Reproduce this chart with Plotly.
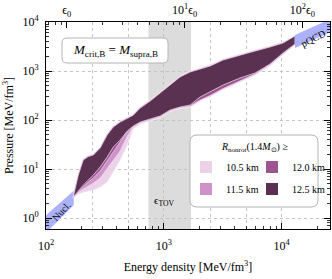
import math
import plotly.graph_objects as go

# ---------------- data ----------------
EPS0 = 150.0  # MeV/fm^3, saturation energy density (top axis unit)

EPS = [170, 188, 207, 228, 252, 288, 330, 372, 426, 489, 550, 630, 765, 930,
       1130, 1370, 1670, 2030, 2470, 3180, 4430, 5940, 7960, 10260, 12960]

# R >= 12.5 km (darkest)
P_UP_125 = [2.68, 7.55, 15.3, 18.0, 19.3, 26.8, 49.4, 72.0, 91.0, 110, 126, 176, 244, 356,
            518, 755, 954, 1100, 1265, 1677, 2121, 2560, 3090, 3728, 5180]
P_LO_125 = [2.68, 3.56, 4.72, 5.97, 7.55, 11.0, 17.6, 28.1, 39.1, 59.7, 75.4, 91.0, 105, 121,
            160, 184, 202, 295, 373, 518, 720, 910, 1390, 2330, 3556]
# R >= 12.0 km
P_LO_120 = [2.62, 3.39, 4.29, 5.43, 6.55, 9.10, 13.9, 22.2, 35.6, 56.9, 73.7, 88.9, 102, 118,
            156, 180, 193, 256, 316, 439, 625, 869, 1357, 2276, 3556]
# R >= 11.5 km
P_LO_115 = [2.56, 3.39, 3.91, 4.50, 5.18, 6.55, 10.0, 15.3, 23.3, 47.2, 72.0, 86.9, 100, 115,
            153, 176, 189, 250, 309, 429, 611, 848, 1326, 2223, 3473]
# R >= 10.5 km (lightest, widest)
P_UP_105 = [2.68, 7.91, 16.0, 18.9, 20.2, 28.1, 51.8, 75.4, 95.4, 115, 133, 184, 256, 373,
            543, 791, 1000, 1152, 1326, 1757, 2223, 2683, 3238, 3907, 5180]
P_LO_105 = [2.56, 3.09, 3.39, 3.56, 3.73, 4.29, 5.43, 8.69, 15.3, 30.9, 65.5, 82.9, 97.7, 112,
            149, 172, 184, 244, 302, 419, 597, 829, 1295, 2172, 3393]

# nuclear (low density) and pQCD (high density) bands
NUCL_EPS = [100, 172]
NUCL_LO = [0.5, 1.85]
NUCL_UP = [1.15, 3.6]
PQCD_EPS = [12960, 27000]
PQCD_LO = [2950, 6500]
PQCD_UP = [5430, 12000]

# TOV energy-density band
TOV_RANGE = [740, 1700]

BAND_LABELS = ["10.5 km", "11.5 km", "12.0 km", "12.5 km"]
BAND_COLORS = ["#ecd2e8", "#cf92c8", "#9d5491", "#5b3152"]
BAND_LEGEND = ["legend", "legend", "legend2", "legend2"]

X_RANGE = [100, 25700]
Y_RANGE = [0.6, 10000]
X_TICKS = [100, 1000, 10000]
X_TICKTEXT = ["10<sup>2</sup>", "10<sup>3</sup>", "10<sup>4</sup>"]
Y_TICKS = [1, 10, 100, 1000, 10000]
Y_TICKTEXT = ["10<sup>0</sup>", "10<sup>1</sup>", "10<sup>2</sup>", "10<sup>3</sup>", "10<sup>4</sup>"]
TOP_TICKS = [1, 10, 100]
TOP_TICKTEXT = ["ϵ<sub>0</sub>", "10<sup>1</sup>ϵ<sub>0</sub>", "10<sup>2</sup>ϵ<sub>0</sub>"]
X_GRID = [250, 500, 1000, 2500, 5000, 10000]

FONT = "Liberation Serif"
W, H = 332, 279
ML, MR, MT, MB = 46, 2, 22, 50
PW, PH = W - ML - MR, H - MT - MB


def px(x):
    return (x - ML) / PW


def py(y):
    return (H - MB - y) / PH


def rounded_box(x0, y0, x1, y1, r):
    """Rounded rectangle path in paper coordinates from pixel corners."""
    rx, ry = r / PW, r / PH
    a, b, c, d = px(x0), px(x1), py(y1), py(y0)  # left, right, bottom, top
    return (f"M{a + rx},{c} L{b - rx},{c} Q{b},{c} {b},{c + ry} L{b},{d - ry} "
            f"Q{b},{d} {b - rx},{d} L{a + rx},{d} Q{a},{d} {a},{d - ry} "
            f"L{a},{c + ry} Q{a},{c} {a + rx},{c} Z")


def band(eps, lo, up, color, line_color, width=0.7):
    return go.Scatter(
        x=list(eps) + list(eps[::-1]),
        y=list(up) + list(lo[::-1]),
        fill="toself", fillcolor=color, mode="lines",
        line=dict(color=line_color, width=width),
        showlegend=False, hoverinfo="skip",
    )


def label(text, x, y, size, angle=0):
    return dict(text=text, xref="paper", yref="paper", x=px(x), y=py(y),
                xanchor="center", yanchor="middle", showarrow=False, textangle=angle,
                font=dict(family=FONT, size=size, color="black"))


fig = go.Figure()

fig.add_trace(band(NUCL_EPS, NUCL_LO, NUCL_UP, "#abb1fb", "rgba(0,0,0,0)", 0))

fig.add_trace(band(EPS, P_LO_105, P_UP_105, BAND_COLORS[0], "#f6e6f3", 0.8))
fig.add_trace(band(EPS, P_LO_115, P_UP_125, BAND_COLORS[1], "#f3e0ef", 0.7))
fig.add_trace(band(EPS, P_LO_120, P_UP_125, BAND_COLORS[2], "#efd8eb", 0.7))
fig.add_trace(band(EPS, P_LO_125, P_UP_125, BAND_COLORS[3], "#f4e4f0", 0.7))

fig.add_trace(band(PQCD_EPS, PQCD_LO, PQCD_UP, "#abb1fb", "rgba(0,0,0,0)", 0))

for lab, col, leg in zip(BAND_LABELS, BAND_COLORS, BAND_LEGEND):
    fig.add_trace(go.Scatter(
        x=[None], y=[None], mode="markers", name=lab, legend=leg, legendgroup=lab,
        marker=dict(symbol="square", size=12, color=col, line=dict(width=0)),
    ))

fig.add_trace(go.Scatter(x=[None], y=[None], xaxis="x2", yaxis="y", showlegend=False, hoverinfo="skip"))
fig.add_trace(go.Scatter(x=[None], y=[None], xaxis="x3", yaxis="y", showlegend=False, hoverinfo="skip"))

lx0, lx1 = math.log10(X_RANGE[0]), math.log10(X_RANGE[1])
ly0, ly1 = math.log10(Y_RANGE[0]), math.log10(Y_RANGE[1])
le0 = math.log10(EPS0)

axis_common = dict(
    showline=True, linecolor="black", linewidth=1,
    ticks="inside", ticklen=6, tickwidth=1, tickcolor="black",
    zeroline=False, automargin=False,
    tickfont=dict(family=FONT, size=12, color="black"),
)
minor_ticks = dict(ticks="inside", ticklen=3, tickcolor="black", tickwidth=0.8, dtick="D1", showgrid=False)

legend_common = dict(
    orientation="v", xanchor="left", yanchor="top",
    bgcolor="rgba(0,0,0,0)", borderwidth=0,
    font=dict(family=FONT, size=10), tracegroupgap=3, itemwidth=30,
)

fig.update_layout(
    width=W, height=H,
    margin=dict(l=ML, r=MR, t=MT, b=MB),
    paper_bgcolor="white", plot_bgcolor="white",
    font=dict(family=FONT, color="black"),
    hovermode=False,
    xaxis=dict(
        type="log", range=[lx0, lx1], tickmode="array", tickvals=X_TICKS, ticktext=X_TICKTEXT,
        showgrid=False, mirror=False, minor=minor_ticks, ticklabelstandoff=6,
        title=dict(text="Energy density [MeV/fm<sup>3</sup>]", font=dict(family=FONT, size=12), standoff=10),
        **axis_common,
    ),
    xaxis2=dict(
        type="log", overlaying="x", side="top", anchor="y",
        range=[lx0 - le0, lx1 - le0],
        tickmode="array", tickvals=TOP_TICKS, ticktext=TOP_TICKTEXT,
        showgrid=False, minor=minor_ticks, ticklabelstandoff=2,
        **axis_common,
    ),
    xaxis3=dict(
        type="log", overlaying="x", anchor="y", range=[lx0, lx1], automargin=False,
        tickmode="array", tickvals=X_GRID, showticklabels=False, ticks="",
        showgrid=True, gridcolor="#c4c4c4", griddash="dot", gridwidth=1,
        showline=False, zeroline=False,
    ),
    yaxis=dict(
        type="log", range=[ly0, ly1], tickmode="array", tickvals=Y_TICKS, ticktext=Y_TICKTEXT,
        showgrid=True, gridcolor="#c4c4c4", griddash="dot", gridwidth=1,
        mirror="ticks", minor=minor_ticks, ticklabelstandoff=4,
        title=dict(text="Pressure [MeV/fm<sup>3</sup>]", font=dict(family=FONT, size=12), standoff=6),
        **axis_common,
    ),
    shapes=[
        dict(type="rect", xref="x", yref="paper", x0=TOV_RANGE[0], x1=TOV_RANGE[1], y0=0, y1=1,
             fillcolor="#dcdcdc", line=dict(width=0), layer="below"),
        dict(type="path", xref="paper", yref="paper", path=rounded_box(62, 38, 168, 63, 5),
             fillcolor="white", line=dict(color="#b4b4b4", width=1), layer="above"),
        dict(type="path", xref="paper", yref="paper", path=rounded_box(190, 135, 318, 207, 7),
             fillcolor="white", line=dict(color="#b4b4b4", width=1), layer="above"),
    ],
    legend=dict(x=px(186), y=py(152.5), **legend_common),
    legend2=dict(x=px(252), y=py(152.5), **legend_common),
    annotations=[
        label("<i>M</i><sub>crit,B</sub> = <i>M</i><sub>supra,B</sub>", 115, 50.5, 13),
        label("<i>R</i><sub>nonrot</sub>(1.4<i>M</i><sub>⊙</sub>) ≥", 254, 147, 10),
        label("Nucl.", 61, 211, 10, -47),
        label("pQCD", 313, 38, 10, -27),
        label("ϵ<sub>TOV</sub>", 164, 201, 11),
    ],
)

fig.write_html(
    "out.html",
    config={"displayModeBar": False, "staticPlot": True},
    post_script="document.body.style.margin='0';document.body.style.padding='0';",
)
